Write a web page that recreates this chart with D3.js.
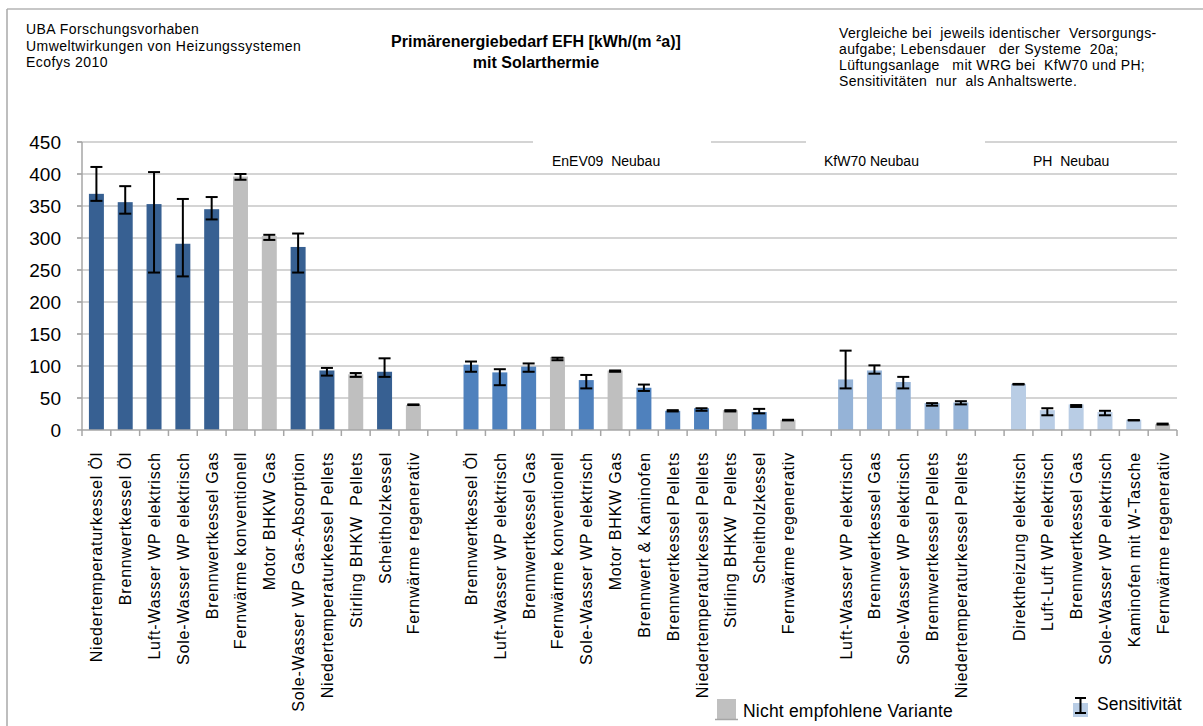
<!DOCTYPE html>
<html>
<head>
<meta charset="utf-8">
<script src="https://cdn.jsdelivr.net/npm/d3@7"></script>
<style>
  body { margin: 0; background: #fff; }
  text { font-family: "Liberation Sans", Arial, sans-serif; fill: #000; }
</style>
</head>
<body>
<script>
const width = 1203
const height = 726

// EnEV09 Neubau (dark blue)
const labels1 = ['Niedertemperaturkessel Öl', 'Brennwertkessel Öl', 'Luft-Wasser WP elektrisch', 'Sole-Wasser WP elektrisch', 'Brennwertkessel Gas', 'Fernwärme konventionell', 'Motor BHKW Gas', 'Sole-Wasser WP Gas-Absorption', 'Niedertemperaturkessel Pellets', 'Stirling BHKW  Pellets', 'Scheitholzkessel', 'Fernwärme regenerativ']
const values1 = [369, 356, 353, 291, 345, 396, 303, 286, 93, 87, 91, 39]
const hi1 = [411, 381, 403, 361, 364, 400, 305, 307, 97, 89, 112, 40]
const lo1 = [358, 338, 246, 240, 329, 391, 297, 246, 85, 83, 83, 39]
const gray1 = [0, 0, 0, 0, 0, 1, 1, 0, 0, 1, 0, 1]

// EnEV09 Neubau mit Solarthermie (blue)
const labels2 = ['Brennwertkessel Öl', 'Luft-Wasser WP elektrisch', 'Brennwertkessel Gas', 'Fernwärme konventionell', 'Sole-Wasser WP elektrisch', 'Motor BHKW Gas', 'Brennwert & Kaminofen', 'Brennwertkessel Pellets', 'Niedertemperaturkessel Pellets', 'Stirling BHKW  Pellets', 'Scheitholzkessel', 'Fernwärme regenerativ']
const values2 = [102, 90, 99, 114, 78, 93, 66, 30, 34, 31, 28, 16]
const hi2 = [107, 95, 104, 113, 86, 93, 71, 31, 34, 31, 33, 16]
const lo2 = [91, 70, 91, 109, 65, 91, 61, 29, 30, 29, 26, 15]
const gray2 = [0, 0, 0, 1, 0, 1, 0, 0, 0, 1, 0, 1]

// KfW70 Neubau
const labels3 = ['Luft-Wasser WP elektrisch', 'Brennwertkessel Gas', 'Sole-Wasser WP elektrisch', 'Brennwertkessel Pellets', 'Niedertemperaturkessel Pellets']
const values3 = [79, 93, 75, 42, 43]
const hi3 = [124, 101, 83, 42, 45]
const lo3 = [65, 88, 65, 38, 40]
const gray3 = [0, 0, 0, 0, 0]

// PH Neubau
const labels4 = ['Direktheizung elektrisch', 'Luft-Luft WP elektrisch', 'Brennwertkessel Gas', 'Sole-Wasser WP elektrisch', 'Kaminofen mit W-Tasche', 'Fernwärme regenerativ']
const values4 = [72, 31, 40, 28, 16, 9]
const hi4 = [72, 34, 39, 30, 15.5, 10]
const lo4 = [71, 23, 36, 23, 15, 8.5]
const gray4 = [0, 0, 0, 0, 0, 1]

const groupColors = ['#376092', '#4F81BD', '#95B3D7', '#B9CDE5']
const grayColor = '#BFBFBF'
const yTicks = [0, 50, 100, 150, 200, 250, 300, 350, 400, 450]

// build slot list, with an empty slot between groups
const groups = [
  [labels1, values1, hi1, lo1, gray1],
  [labels2, values2, hi2, lo2, gray2],
  [labels3, values3, hi3, lo3, gray3],
  [labels4, values4, hi4, lo4, gray4]
]
const slots = []
groups.forEach((g, gi) => {
  if (gi > 0) slots.push(null)
  g[0].forEach((label, i) => {
    slots.push({ label, value: g[1][i], hi: g[2][i], lo: g[3][i], gray: g[4][i], group: gi })
  })
})

const svg = d3.select('body').append('svg')
  .attr('width', width)
  .attr('height', height)

// outer frame
svg.append('line').attr('x1', 7).attr('x2', width).attr('y1', 9).attr('y2', 9)
  .style('stroke', '#B5B5B5').style('stroke-width', 1.5)
svg.append('line').attr('x1', 7).attr('x2', 7).attr('y1', 9).attr('y2', height)
  .style('stroke', '#A8A8A8').style('stroke-width', 1.5)

const x = d3.scaleBand()
  .domain(d3.range(slots.length))
  .range([82, 1177])
  .paddingInner(0.48)
  .paddingOuter(0.24)

const y = d3.scaleLinear().domain([0, 450]).range([430, 142])

// gridlines
svg.append('g').selectAll('line').data(yTicks.slice(1)).enter().append('line')
  .attr('x1', 77).attr('x2', 1177)
  .attr('y1', d => y(d)).attr('y2', d => y(d))
  .style('stroke', '#C6C6C6').style('stroke-width', 1.5)

// group label boxes
const groupLabels = [
  { text: 'EnEV09  Neubau', x: 552, box: [533, 711] },
  { text: 'KfW70 Neubau', x: 824, box: [806, 985] },
  { text: 'PH  Neubau', x: 1033, box: null }
]
groupLabels.forEach(g => {
  if (g.box) {
    svg.append('rect').attr('x', g.box[0]).attr('y', 136)
      .attr('width', g.box[1] - g.box[0]).attr('height', 34).style('fill', '#fff')
  }
  svg.append('text').attr('x', g.x).attr('y', 166)
    .style('font-size', '14px').style('white-space', 'pre').text(g.text)
})

// y axis
const yAxis = svg.append('g')
yAxis.append('line').attr('x1', 82).attr('x2', 82).attr('y1', 142).attr('y2', 430)
  .style('stroke', '#A6A6A6').style('stroke-width', 1.5)
yAxis.selectAll('line.tick').data(yTicks).enter().append('line')
  .attr('class', 'tick')
  .attr('x1', 77).attr('x2', 82)
  .attr('y1', d => y(d)).attr('y2', d => y(d))
  .style('stroke', '#A6A6A6').style('stroke-width', 1.5)
yAxis.selectAll('text').data(yTicks).enter().append('text')
  .attr('x', 61).attr('y', d => y(d)).attr('dy', '0.36em')
  .attr('text-anchor', 'end')
  .style('font-size', '19px')
  .text(d => d)

// bars
const barData = slots.map((d, i) => d ? Object.assign({ i }, d) : null).filter(d => d)
svg.append('g').selectAll('rect').data(barData).enter().append('rect')
  .attr('x', d => x(d.i))
  .attr('width', x.bandwidth())
  .attr('y', d => y(d.value))
  .attr('height', d => y(0) - y(d.value))
  .style('fill', d => d.gray ? grayColor : groupColors[d.group])

// error bars
const err = svg.append('g').selectAll('g').data(barData).enter().append('g')
  .attr('transform', d => `translate(${x(d.i) + x.bandwidth() / 2},0)`)
err.append('line')
  .attr('y1', d => y(d.hi)).attr('y2', d => y(d.lo))
  .style('stroke', '#000').style('stroke-width', 2)
err.append('line')
  .attr('x1', -6).attr('x2', 6)
  .attr('y1', d => y(d.hi)).attr('y2', d => y(d.hi))
  .style('stroke', '#000').style('stroke-width', 2)
err.append('line')
  .attr('x1', -6).attr('x2', 6)
  .attr('y1', d => y(d.lo)).attr('y2', d => y(d.lo))
  .style('stroke', '#000').style('stroke-width', 2)

// x axis with ticks on slot boundaries
const step = x.step()
svg.append('line').attr('x1', 82).attr('x2', 1177).attr('y1', 430).attr('y2', 430)
  .style('stroke', '#A6A6A6').style('stroke-width', 1.5)
svg.append('g').selectAll('line').data(d3.range(slots.length + 1)).enter().append('line')
  .attr('x1', d => 82 + d * step).attr('x2', d => 82 + d * step)
  .attr('y1', 430).attr('y2', 436)
  .style('stroke', '#A6A6A6').style('stroke-width', 1.5)

// category labels
svg.append('g').selectAll('text').data(barData).enter().append('text')
  .attr('transform', d => `translate(${x(d.i) + x.bandwidth() / 2 + 6},452) rotate(-90)`)
  .attr('text-anchor', 'end')
  .style('font-size', '16px')
  .style('letter-spacing', '0.8px')
  .style('white-space', 'pre')
  .text(d => d.label)

// header texts
const leftNote = ['UBA Forschungsvorhaben', 'Umweltwirkungen von Heizungssystemen', 'Ecofys 2010']
svg.append('g').selectAll('text').data(leftNote).enter().append('text')
  .attr('x', 26).attr('y', (d, i) => 34 + i * 16.5)
  .style('font-size', '14px').style('letter-spacing', '0.45px')
  .text(d => d)

const title = ['Primärenergiebedarf EFH [kWh/(m ²a)]', 'mit Solarthermie']
svg.append('g').selectAll('text').data(title).enter().append('text')
  .attr('x', 536).attr('y', (d, i) => 47 + i * 21)
  .attr('text-anchor', 'middle')
  .style('font-size', '16px').style('font-weight', 'bold')
  .style('white-space', 'pre')
  .text(d => d)

const rightNote = ['Vergleiche bei  jeweils identischer  Versorgungs-', 'aufgabe; Lebensdauer   der Systeme  20a;', 'Lüftungsanlage   mit WRG bei  KfW70 und PH;', 'Sensitivitäten  nur  als Anhaltswerte.']
svg.append('g').selectAll('text').data(rightNote).enter().append('text')
  .attr('x', 839).attr('y', (d, i) => 38 + i * 16)
  .style('font-size', '14px').style('letter-spacing', '0.35px')
  .style('white-space', 'pre')
  .text(d => d)

// legend
svg.append('rect').attr('x', 717).attr('y', 699).attr('width', 19).attr('height', 20)
  .style('fill', '#C0C0C0')
svg.append('line').attr('x1', 715).attr('x2', 738).attr('y1', 719.5).attr('y2', 719.5)
  .style('stroke', '#A6A6A6').style('stroke-width', 1.5)
svg.append('text').attr('x', 743).attr('y', 717)
  .style('font-size', '17.5px').style('letter-spacing', '0.2px')
  .text('Nicht empfohlene Variante')

svg.append('rect').attr('x', 1073).attr('y', 703).attr('width', 15).attr('height', 14)
  .style('fill', '#B9CDE5')
svg.append('line').attr('x1', 1080.5).attr('x2', 1080.5).attr('y1', 698).attr('y2', 713)
  .style('stroke', '#000').style('stroke-width', 2)
svg.append('line').attr('x1', 1075).attr('x2', 1086).attr('y1', 698).attr('y2', 698)
  .style('stroke', '#000').style('stroke-width', 2)
svg.append('line').attr('x1', 1075).attr('x2', 1086).attr('y1', 713).attr('y2', 713)
  .style('stroke', '#000').style('stroke-width', 2)
svg.append('text').attr('x', 1097).attr('y', 710)
  .style('font-size', '17.5px')
  .text('Sensitivität')
</script>
</body>
</html>
